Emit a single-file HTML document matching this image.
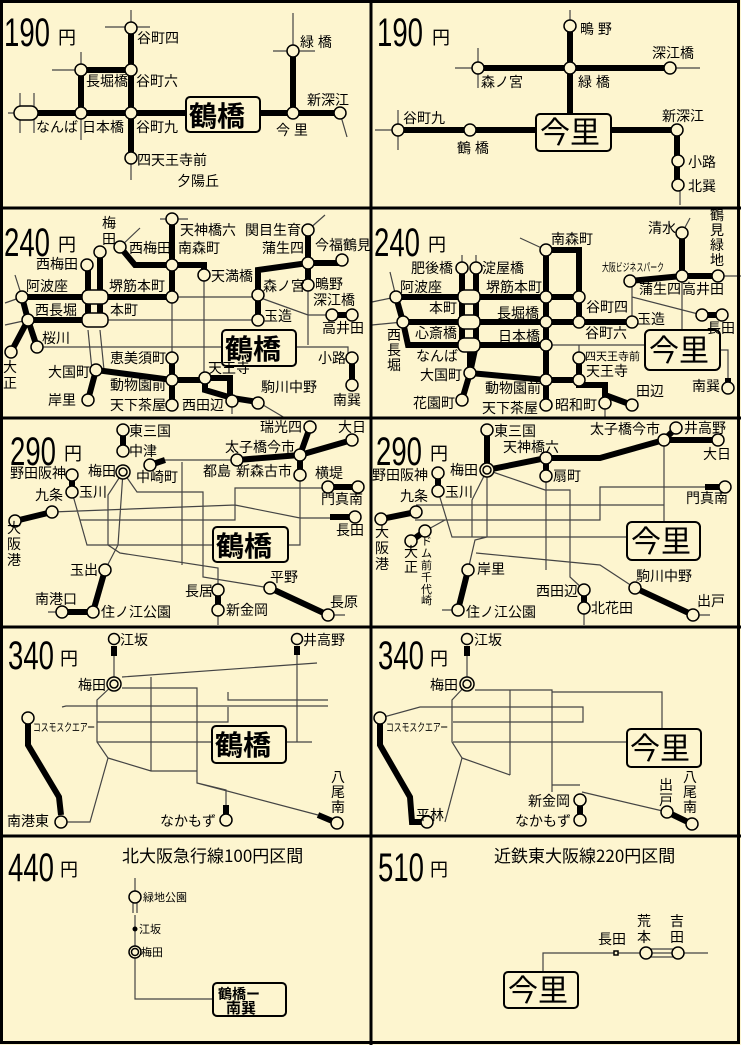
<!DOCTYPE html>
<html><head><meta charset="utf-8">
<style>
html,body{margin:0;padding:0;background:#fdf5cf;}
svg{display:block}
.T{stroke:#000;stroke-width:6;fill:none;stroke-linejoin:miter}
.N{stroke:#444;stroke-width:1.2;fill:none}
.c{fill:#fdf5cf;stroke:#000;stroke-width:1.5}
.l{font-family:"Liberation Sans","Noto Sans CJK JP",sans-serif;font-size:14px;fill:#000}
.s{font-family:"Liberation Sans","Noto Sans CJK JP",sans-serif;font-size:11px;fill:#000}
.p{font-family:"Liberation Sans","Noto Sans CJK JP",sans-serif;font-size:40px;fill:#000}
.y{font-family:"Noto Sans CJK JP",sans-serif;font-size:18px;fill:#000}
.bx{fill:#fdf5cf;stroke:#000;stroke-width:2}
.b{font-family:"Noto Sans CJK JP",sans-serif;font-size:28px;font-weight:bold;fill:#000}
.bi{font-family:"Noto Sans CJK JP",sans-serif;font-size:30px;fill:#000}
.ti{font-family:"Noto Sans CJK JP",sans-serif;font-size:17px;fill:#000}
</style></head><body>
<svg width="741" height="1045" viewBox="0 0 741 1045" xmlns="http://www.w3.org/2000/svg">
<rect x="0" y="0" width="741" height="1045" fill="#fdf5cf"/>

<!-- ============ PANEL 1 ============ -->
<text class="p" x="4" y="46" textLength="46" lengthAdjust="spacingAndGlyphs">190</text><text class="y" x="58" y="44">円</text>
<path class="N" d="M131 10V28M105 27H150M81 52V70M52 70H98M20 93V133M34 93V133M131 158V180M293 13V51M273 51H315M340 113L347 137M81 113V140M8 113H20"/>
<path class="T" d="M20 113H186M258 113H340M131 28V158M81 113V70H131M293 51V113"/>
<rect x="14" y="106" width="24" height="14" rx="7" class="c"/>
<circle class="c" cx="131" cy="28" r="6"/><circle class="c" cx="131" cy="70" r="6"/><circle class="c" cx="131" cy="113" r="6"/><circle class="c" cx="131" cy="158" r="6"/>
<circle class="c" cx="81" cy="70" r="6"/><circle class="c" cx="81" cy="113" r="6"/>
<circle class="c" cx="293" cy="51" r="6"/><circle class="c" cx="293" cy="113" r="6"/><circle class="c" cx="340" cy="113" r="6"/>
<rect class="bx" x="186" y="97" width="74" height="35" rx="4"/><text class="b" x="189" y="126">鶴橋</text>
<text class="l" x="137" y="43">谷町四</text><text class="l" x="86" y="86">長堀橋</text><text class="l" x="136" y="86">谷町六</text>
<text class="l" x="36" y="132">なんば</text><text class="l" x="82" y="132">日本橋</text><text class="l" x="136" y="132">谷町九</text>
<text class="l" x="137" y="165">四天王寺前</text><text class="l" x="177" y="186">夕陽丘</text>
<text class="l" x="300" y="47">緑 橋</text><text class="l" x="307" y="105">新深江</text><text class="l" x="276" y="135">今 里</text>

<!-- ============ PANEL 2 ============ -->
<text class="p" x="377" y="46" textLength="46" lengthAdjust="spacingAndGlyphs">190</text><text class="y" x="432" y="44">円</text>
<path class="N" d="M570 10V25M478 48V88M455 68H478M670 68H700M398 110V150M375 130H398M680 185V205"/>
<path class="T" d="M478 68H670M570 25V115M398 130H536M611 130H677V185"/>
<circle class="c" cx="478" cy="68" r="6"/><circle class="c" cx="570" cy="68" r="6"/><circle class="c" cx="670" cy="68" r="6"/><circle class="c" cx="570" cy="26" r="6"/>
<circle class="c" cx="398" cy="130" r="6"/><circle class="c" cx="470" cy="130" r="6"/><circle class="c" cx="677" cy="130" r="6"/>
<circle class="c" cx="678" cy="161" r="6"/><circle class="c" cx="678" cy="185" r="6"/>
<rect class="bx" x="536" y="114" width="75" height="37" rx="4"/><text class="bi" x="540" y="143">今里</text>
<text class="l" x="580" y="34">鴫 野</text><text class="l" x="652" y="58">深江橋</text><text class="l" x="481" y="87">森ノ宮</text><text class="l" x="578" y="87">緑 橋</text>
<text class="l" x="403" y="123">谷町九</text><text class="l" x="457" y="153">鶴 橋</text><text class="l" x="662" y="121">新深江</text>
<text class="l" x="688" y="167">小路</text><text class="l" x="688" y="191">北巽</text>

<!-- ============ PANEL 3 ============ -->
<text class="p" x="4" y="256" textLength="46" lengthAdjust="spacingAndGlyphs">240</text><text class="y" x="58" y="251">円</text>
<path class="N" d="M160 219H188M120 247L140 228M22 297L5 303M22 297L15 275M172 297H258M108 320H258M258 297L308 315H332M204 275V378M172 297V358M37 347H222M296 347H348V358M308 285V345M308 230L325 215M28 320L5 325M88 330L92 370L96 370M100 330L104 370M258 402L285 418M232 402V414"/>
<path class="T" d="M22 297H172M28 320H100M88 265V320M100 252V320M172 219V295M172 265H204V275M120 247L135 265H172M22 297L28 320L37 347M28 320L11 352M96 370L88 400M96 370L172 380H205M172 358V405M205 378H230V395M205 378V390L232 398L258 402M258 320V270L308 263H342M308 230V285M258 295V320M332 315H352M352 358V385"/>
<rect x="82" y="290" width="26" height="14" rx="6" class="c"/><rect x="82" y="313" width="26" height="14" rx="6" class="c"/>
<g class="c">
<circle cx="172" cy="219" r="6"/><circle cx="172" cy="265" r="6"/><circle cx="120" cy="247" r="6"/><circle cx="204" cy="275" r="6"/><circle cx="172" cy="297" r="6"/>
<circle cx="172" cy="358" r="6"/><circle cx="172" cy="380" r="6"/><circle cx="172" cy="405" r="6"/><circle cx="205" cy="378" r="6"/><circle cx="232" cy="401" r="6"/><circle cx="258" cy="403" r="6"/>
<circle cx="96" cy="370" r="6"/><circle cx="88" cy="400" r="6"/><circle cx="22" cy="297" r="6"/><circle cx="28" cy="320" r="6"/><circle cx="37" cy="347" r="6"/><circle cx="11" cy="352" r="6"/>
<circle cx="87" cy="265" r="6"/><circle cx="100" cy="252" r="6"/><circle cx="258" cy="295" r="6"/><circle cx="258" cy="320" r="6"/>
<circle cx="308" cy="263" r="6"/><circle cx="308" cy="230" r="6"/><circle cx="342" cy="260" r="6"/><circle cx="308" cy="285" r="6"/>
<circle cx="332" cy="315" r="6"/><circle cx="352" cy="315" r="6"/><circle cx="352" cy="358" r="6"/><circle cx="352" cy="385" r="6"/>
</g>
<rect class="bx" x="222" y="330" width="74" height="36" rx="4"/><text class="b" x="225" y="359">鶴橋</text>
<text class="l" x="180" y="235">天神橋六</text><text class="l" x="245" y="235">関目生育</text><text class="l" x="102" y="228">梅</text><text class="l" x="102" y="244">田</text>
<text class="l" x="129" y="253">西梅田</text><text class="l" x="178" y="253">南森町</text><text class="l" x="36" y="269">西梅田</text>
<text class="l" x="211" y="281">天満橋</text><text class="l" x="262" y="253">蒲生四</text><text class="l" x="315" y="250">今福鶴見</text>
<text class="l" x="26" y="291">阿波座</text><text class="l" x="109" y="291">堺筋本町</text><text class="l" x="263" y="291">森ノ宮</text>
<text class="l" x="315" y="289">鴫野</text><text class="l" x="313" y="305">深江橋</text><text class="l" x="35" y="315">西長堀</text><text class="l" x="110" y="315">本町</text>
<text class="l" x="264" y="321">玉造</text><text class="l" x="322" y="333">高井田</text><text class="l" x="42" y="343">桜川</text>
<text class="l" x="110" y="363">恵美須町</text><text class="l" x="318" y="363">小路</text><text class="l" x="208" y="373">天王寺</text>
<text class="l" x="48" y="377">大国町</text><text class="l" x="110" y="390">動物園前</text><text class="l" x="261" y="392">駒川中野</text>
<text class="l" x="48" y="405">岸里</text><text class="l" x="110" y="410">天下茶屋</text><text class="l" x="182" y="410">西田辺</text><text class="l" x="333" y="405">南巽</text>
<text class="l" x="3" y="372">大</text><text class="l" x="3" y="388">正</text>

<!-- ============ PANEL 4 ============ -->
<text class="p" x="374" y="256" textLength="46" lengthAdjust="spacingAndGlyphs">240</text><text class="y" x="428" y="251">円</text>
<path class="N" d="M546 250L520 238M462 268V255M476 268V255M396 297L372 302M396 297L390 272M403 322L372 325M546 345H645M579 345V358M632 297L702 315M682 276V330M720 350H728V388M682 233L690 218M718 276H741M632 281V322M605 405V418"/>
<path class="T" d="M396 297H579M546 250V405M546 250H579V322M403 322H632M462 268V345M476 268V345M396 297L403 322L408 345H546M470 345L470 373M476 345L470 373M470 373L462 400M470 373L546 380H579M579 363V385H605V395L632 405M630 281L682 276H718M682 233V276M702 315H722M728 378V388"/>
<rect x="458" y="290" width="22" height="14" rx="6" class="c"/><rect x="458" y="315" width="22" height="14" rx="6" class="c"/><rect x="458" y="338" width="22" height="14" rx="6" class="c"/>
<g class="c">
<circle cx="546" cy="250" r="6"/><circle cx="462" cy="268" r="6"/><circle cx="476" cy="268" r="6"/><circle cx="396" cy="297" r="6"/><circle cx="546" cy="297" r="6"/><circle cx="579" cy="297" r="6"/>
<circle cx="546" cy="322" r="6"/><circle cx="579" cy="322" r="6"/><circle cx="632" cy="322" r="6"/><circle cx="403" cy="322" r="6"/><circle cx="546" cy="345" r="6"/>
<circle cx="579" cy="358" r="6"/><circle cx="579" cy="380" r="6"/><circle cx="470" cy="373" r="6"/><circle cx="462" cy="400" r="6"/><circle cx="546" cy="380" r="6"/><circle cx="546" cy="405" r="6"/>
<circle cx="605" cy="403" r="6"/><circle cx="632" cy="405" r="6"/><circle cx="630" cy="281" r="6"/><circle cx="682" cy="276" r="6"/><circle cx="682" cy="233" r="6"/><circle cx="718" cy="276" r="6"/>
<circle cx="702" cy="315" r="6"/><circle cx="722" cy="315" r="6"/><circle cx="728" cy="388" r="6"/>
</g>
<rect class="bx" x="645" y="330" width="75" height="40" rx="5"/><text class="bi" x="649" y="361">今里</text>
<text class="l" x="551" y="244">南森町</text><text class="l" x="648" y="233">清水</text>
<text class="l" x="710" y="220">鶴</text><text class="l" x="710" y="235">見</text><text class="l" x="710" y="250">緑</text><text class="l" x="710" y="265">地</text>
<text class="s" x="602" y="271" textLength="62" lengthAdjust="spacingAndGlyphs">大阪ビジネスパーク</text>
<text class="l" x="411" y="273">肥後橋</text><text class="l" x="482" y="273">淀屋橋</text><text class="l" x="400" y="292">阿波座</text><text class="l" x="486" y="292">堺筋本町</text>
<text class="l" x="639" y="294">蒲生四</text><text class="l" x="682" y="294">高井田</text><text class="l" x="429" y="313">本町</text><text class="l" x="497" y="318">長堀橋</text>
<text class="l" x="586" y="312">谷町四</text><text class="l" x="637" y="324">玉造</text><text class="l" x="707" y="333">長田</text>
<text class="l" x="415" y="338">心斎橋</text><text class="l" x="498" y="341">日本橋</text><text class="l" x="585" y="338">谷町六</text>
<text class="l" x="387" y="340">西</text><text class="l" x="387" y="355">長</text><text class="l" x="387" y="370">堀</text>
<text class="l" x="416" y="361">なんば</text><text class="s" x="585" y="360">四天王寺前</text><text class="l" x="586" y="376">天王寺</text>
<text class="l" x="420" y="380">大国町</text><text class="l" x="485" y="393">動物園前</text><text class="l" x="636" y="396">田辺</text><text class="l" x="692" y="391">南巽</text>
<text class="l" x="413" y="408">花園町</text><text class="l" x="482" y="413">天下茶屋</text><text class="l" x="555" y="410">昭和町</text>

<!-- ============ PANEL 5 ============ -->
<text class="p" x="10" y="465" textLength="46" lengthAdjust="spacingAndGlyphs">290</text><text class="y" x="64" y="460">円</text>
<path class="N" d="M150 465L165 460H237M123 472L137 492H203V577L270 588M72 492L87 545H213M288 545H300V475M52 512L235 505L300 518H330M80 520H235V488H328M123 472L108 495V545L120 553L218 568V590M182 462V565M123 472L118 545L105 570M300 455L310 427M328 615H345M62 612H48M218 610V625"/>
<path class="T" d="M123 430V451M150 465L165 460M72 475V492M52 512L15 521M310 427L300 455L352 440M237 460L300 455V475M328 487H358M330 517H355M105 570L93 612H62M218 590V610M270 588L328 615"/>
<g class="c">
<circle cx="123" cy="430" r="6"/><circle cx="123" cy="451" r="6"/><circle cx="150" cy="465" r="6"/><circle cx="72" cy="475" r="6"/><circle cx="72" cy="492" r="6"/>
<circle cx="52" cy="512" r="6"/><circle cx="15" cy="521" r="6"/><circle cx="310" cy="427" r="6"/><circle cx="352" cy="440" r="6"/><circle cx="300" cy="455" r="6"/>
<circle cx="300" cy="475" r="6"/><circle cx="237" cy="460" r="6"/><circle cx="328" cy="487" r="6"/><circle cx="358" cy="487" r="6"/><circle cx="355" cy="517" r="6"/>
<circle cx="105" cy="570" r="6"/><circle cx="93" cy="612" r="6"/><circle cx="62" cy="612" r="6"/><circle cx="218" cy="590" r="6"/><circle cx="218" cy="610" r="6"/>
<circle cx="270" cy="588" r="6"/><circle cx="328" cy="615" r="6"/>
</g>
<circle cx="123" cy="472" r="7" class="c"/><circle cx="123" cy="472" r="4" class="c"/>
<rect class="bx" x="213" y="527" width="75" height="35" rx="4"/><text class="b" x="216" y="556">鶴橋</text>
<text class="l" x="129" y="436">東三国</text><text class="l" x="129" y="456">中津</text><text class="l" x="260" y="432">瑞光四</text><text class="l" x="338" y="432">大日</text>
<text class="l" x="225" y="452">太子橋今市</text><text class="l" x="88" y="476">梅田</text><text class="l" x="136" y="482">中崎町</text><text class="l" x="10" y="478">野田阪神</text>
<text class="l" x="203" y="476">都島</text><text class="l" x="236" y="476">新森古市</text><text class="l" x="315" y="478">横堤</text>
<text class="l" x="79" y="497">玉川</text><text class="l" x="35" y="500">九条</text><text class="l" x="321" y="504">門真南</text><text class="l" x="336" y="535">長田</text>
<text class="l" x="7" y="533">大</text><text class="l" x="7" y="549">阪</text><text class="l" x="7" y="565">港</text>
<text class="l" x="70" y="575">玉出</text><text class="l" x="270" y="582">平野</text><text class="l" x="185" y="596">長居</text><text class="l" x="330" y="607">長原</text>
<text class="l" x="35" y="604">南港口</text><text class="l" x="101" y="617">住ノ江公園</text><text class="l" x="226" y="615">新金岡</text>

<!-- ============ PANEL 6 ============ -->
<text class="p" x="376" y="465" textLength="46" lengthAdjust="spacingAndGlyphs">290</text><text class="y" x="430" y="460">円</text>
<path class="N" d="M487 470L545 490H570V577L584 590M546 476V570M664 440V522M416 505H664M415 520H600V487H705M438 491L452 537H627M487 470V537L475 540L468 570M487 470L472 500V537M425 531L445 520M458 610H442M693 615H710M584 608V625M476 553L600 565L635 588"/>
<path class="T" d="M487 430V470L546 458H600L664 440L676 428M664 440H718M546 458V476M438 473V491M416 512L381 519M425 531L411 541M705 487H725M468 570L458 610M584 590V608M635 588L693 615"/>
<g class="c">
<circle cx="487" cy="430" r="6"/><circle cx="546" cy="458" r="6"/><circle cx="546" cy="476" r="6"/><circle cx="664" cy="440" r="6"/><circle cx="676" cy="428" r="6"/><circle cx="718" cy="440" r="6"/>
<circle cx="438" cy="473" r="6"/><circle cx="438" cy="491" r="6"/><circle cx="416" cy="512" r="6"/><circle cx="381" cy="519" r="6"/><circle cx="425" cy="531" r="6"/><circle cx="411" cy="541" r="6"/>
<circle cx="725" cy="487" r="6"/><circle cx="468" cy="570" r="6"/><circle cx="458" cy="610" r="6"/><circle cx="584" cy="590" r="6"/><circle cx="584" cy="608" r="6"/><circle cx="635" cy="588" r="6"/><circle cx="693" cy="615" r="6"/>
</g>
<circle cx="487" cy="470" r="7" class="c"/><circle cx="487" cy="470" r="4" class="c"/>
<rect class="bx" x="627" y="522" width="73" height="38" rx="5"/><text class="bi" x="631" y="552">今里</text>
<text class="l" x="494" y="436">東三国</text><text class="l" x="590" y="434">太子橋今市</text><text class="l" x="684" y="433">井高野</text><text class="l" x="703" y="459">大日</text>
<text class="l" x="503" y="452">天神橋六</text><text class="l" x="450" y="475">梅田</text><text class="l" x="553" y="481">扇町</text><text class="l" x="372" y="480">野田阪神</text>
<text class="l" x="445" y="497">玉川</text><text class="l" x="400" y="501">九条</text><text class="l" x="686" y="503">門真南</text>
<text class="l" x="375" y="537">大</text><text class="l" x="375" y="553">阪</text><text class="l" x="375" y="569">港</text>
<text class="l" x="404" y="557">大</text><text class="l" x="404" y="572">正</text>
<text class="s" x="421" y="545">ド</text><text class="s" x="421" y="557">ム</text><text class="s" x="421" y="569">前</text><text class="s" x="421" y="581">千</text><text class="s" x="421" y="593">代</text><text class="s" x="421" y="604">崎</text>
<text class="l" x="477" y="574">岸里</text><text class="l" x="636" y="581">駒川中野</text><text class="l" x="536" y="596">西田辺</text><text class="l" x="591" y="613">北花田</text>
<text class="l" x="697" y="606">出戸</text><text class="l" x="466" y="617">住ノ江公園</text>

<!-- ============ PANEL 7 ============ -->
<text class="p" x="8" y="669" textLength="46" lengthAdjust="spacingAndGlyphs">340</text><text class="y" x="60" y="665">円</text>
<path class="N" d="M114 646V684M122 677L317 663M122 688H197V783L226 790V805M62 707L66 706H328M228 692V700H328M97 722H228V707M97 742H213M285 742H312M297 655V742M151 677V771M114 684L97 700V742L108 758L90 822H67M108 758L151 771H197M197 783L318 815"/>
<path class="T" d="M114 646V656M297 646V655M28 718V745L59 797L61 815M226 805V815M318 815L337 823"/>
<g class="c">
<circle cx="114" cy="639" r="5.5"/><circle cx="297" cy="639" r="5.5"/><circle cx="28" cy="718" r="6"/><circle cx="61" cy="822" r="6"/><circle cx="226" cy="820" r="6"/><circle cx="337" cy="823" r="6"/>
</g>
<circle cx="114" cy="684" r="7" class="c"/><circle cx="114" cy="684" r="4" class="c"/>
<rect class="bx" x="212" y="726" width="74" height="37" rx="4"/><text class="b" x="215" y="755">鶴橋</text>
<text class="l" x="120" y="645">江坂</text><text class="l" x="303" y="645">井高野</text><text class="l" x="78" y="690">梅田</text>
<text class="s" x="33" y="731" textLength="62" lengthAdjust="spacingAndGlyphs">コスモスクエアー</text>
<text class="l" x="7" y="826">南港東</text><text class="l" x="160" y="826">なかもず</text>
<text class="l" x="331" y="782">八</text><text class="l" x="331" y="797">尾</text><text class="l" x="331" y="812">南</text>

<!-- ============ PANEL 8 ============ -->
<text class="p" x="378" y="669" textLength="46" lengthAdjust="spacingAndGlyphs">340</text><text class="y" x="430" y="665">円</text>
<path class="N" d="M467 646V684M475 690H510V775M510 690H552V792M552 692V785H580M467 684L452 700V742L462 758L445 822M462 758L510 775M552 692H662V729M380 718L420 707H583V722H453M453 742H627M582 792L667 812M580 800L580 820"/>
<path class="T" d="M467 646V656M380 718V745L410 797L412 822H427M580 804V815M667 812L692 824"/>
<g class="c">
<circle cx="467" cy="639" r="5.5"/><circle cx="380" cy="718" r="6"/><circle cx="427" cy="822" r="6"/><circle cx="580" cy="800" r="6"/><circle cx="580" cy="820" r="6"/><circle cx="667" cy="812" r="6"/><circle cx="692" cy="824" r="6"/>
</g>
<circle cx="467" cy="684" r="7" class="c"/><circle cx="467" cy="684" r="4" class="c"/>
<rect class="bx" x="627" y="729" width="74" height="38" rx="4"/><text class="bi" x="630" y="759">今里</text>
<text class="l" x="474" y="645">江坂</text><text class="l" x="430" y="690">梅田</text>
<text class="s" x="386" y="731" textLength="62" lengthAdjust="spacingAndGlyphs">コスモスクエアー</text>
<text class="l" x="416" y="820">平林</text><text class="l" x="528" y="806">新金岡</text><text class="l" x="515" y="826">なかもず</text>
<text class="l" x="659" y="790">出</text><text class="l" x="659" y="805">戸</text>
<text class="l" x="683" y="782">八</text><text class="l" x="683" y="797">尾</text><text class="l" x="683" y="812">南</text>

<!-- ============ PANEL 9 ============ -->
<text class="p" x="8" y="881" textLength="46" lengthAdjust="spacingAndGlyphs">440</text><text class="y" x="60" y="876">円</text>
<text class="ti" x="122" y="862">北大阪急行線100円区間</text>
<path class="N" d="M135 878V891M133 903V913M137 903V913M135 915V999H213"/>
<circle cx="135" cy="897" r="6" class="c"/><circle cx="135" cy="929" r="2.5" fill="#000"/>
<circle cx="135" cy="952" r="6" class="c"/><circle cx="135" cy="952" r="3.5" class="c"/>
<text class="s" x="143" y="901" font-size="12">緑地公園</text><text class="s" x="139" y="933">江坂</text><text class="s" x="141" y="956">梅田</text>
<rect class="bx" x="213" y="983" width="73" height="33" rx="4"/>
<text x="218" y="999" font-family="Noto Sans CJK JP,sans-serif" font-size="14" font-weight="bold">鶴橋ー</text>
<text x="226" y="1013" font-family="Noto Sans CJK JP,sans-serif" font-size="15" font-weight="bold">南巽</text>

<!-- ============ PANEL 10 ============ -->
<text class="p" x="378" y="881" textLength="46" lengthAdjust="spacingAndGlyphs">510</text><text class="y" x="430" y="876">円</text>
<text class="ti" x="494" y="862">近鉄東大阪線220円区間</text>
<path class="N" d="M543 972V953H708M646 949H678M646 957H678"/>
<rect x="614" y="951" width="4" height="4" class="c"/>
<circle cx="646" cy="953" r="6" class="c"/><circle cx="678" cy="953" r="6" class="c"/>
<text class="l" x="598" y="944">長田</text>
<text class="l" x="637" y="926">荒</text><text class="l" x="637" y="942">本</text>
<text class="l" x="670" y="926">吉</text><text class="l" x="670" y="942">田</text>
<rect class="bx" x="504" y="972" width="74" height="36" rx="4"/><text class="bi" x="508" y="1001">今里</text>

<!-- ============ GRID BORDERS ============ -->
<g stroke="#000" fill="none">
<rect x="1.5" y="1.5" width="737" height="1041" stroke-width="3"/>
<line x1="371" y1="0" x2="371" y2="1045" stroke-width="3"/>
<line x1="0" y1="208" x2="741" y2="208" stroke-width="3"/>
<line x1="0" y1="418" x2="741" y2="418" stroke-width="3"/>
<line x1="0" y1="627" x2="741" y2="627" stroke-width="3"/>
<line x1="0" y1="836" x2="741" y2="836" stroke-width="3"/>
</g>
</svg>
</body></html>
